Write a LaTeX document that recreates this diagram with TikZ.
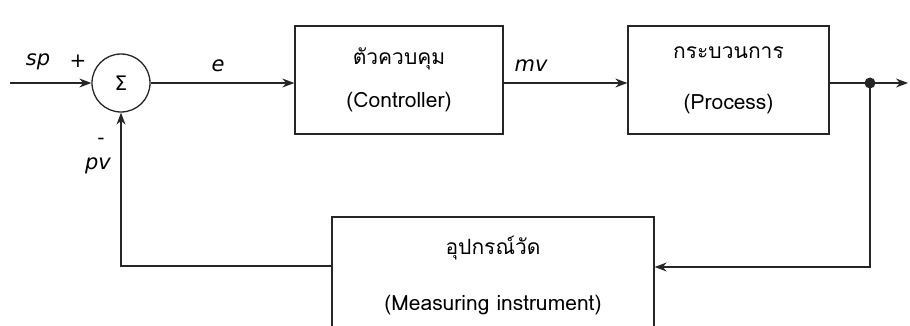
\documentclass[tikz,border=0pt]{standalone}
\usepackage{fontspec}
\setmainfont{DejaVu Sans}
\newfontfamily\thai[Script=Thai]{Loma}
\usetikzlibrary{arrows.meta}
\begin{document}
\begin{tikzpicture}[x=1pt,y=-1pt,
  line width=1.3pt, draw=black!85,
  arr/.style={-{Stealth[length=12pt,width=9pt]}},
  blk/.style={draw, rectangle, inner sep=0pt, align=center, font=\thai\fontsize{21}{24}\selectfont},
  lbl/.style={font=\itshape\fontsize{21}{24}\selectfont, inner sep=1pt},
  sgn/.style={font=\fontsize{20}{22}\selectfont, inner sep=1pt}]
\useasboundingbox (0,0) rectangle (910,326);
\clip (0,0) rectangle (910,326);
\node[draw, circle, minimum size=58pt, inner sep=0pt, font=\fontsize{20}{22}\selectfont] (sum) at (121,83) {Σ};
\node[blk, minimum width=208pt, minimum height=108pt] (ctrl) at (399,80) {ตัวควบคุม\\[19pt](Controller)};
\node[blk, minimum width=201pt, minimum height=108pt] (proc) at (728.5,80) {กระบวนการ\\[27pt](Process)};
\node[blk, minimum width=322pt, minimum height=118pt] (meas) at (493,276) {อุปกรณ์วัด\\[32pt](Measuring instrument)};
\coordinate (in) at (10,83);
\coordinate (out) at (908,83);
\node[circle, fill=black!85, minimum size=11pt, inner sep=0pt] (dot) at (870,83) {};
\coordinate (fbr) at (870,267);
\coordinate (fbl) at (121,266);
\draw[arr] (in) -- (sum.west);
\draw[arr] (sum.east) -- (ctrl.west |- sum.east);
\draw[arr] (ctrl.east |- sum.east) -- (proc.west |- sum.east);
\draw[arr] (proc.east |- sum.east) -- (out);
\draw[arr] (dot.center) -- (fbr) -- (meas.east |- fbr);
\draw[arr] (meas.west |- fbl) -- (fbl) -- (sum.south);
\node[lbl] (sp) at (38,62) {sp};
\node[sgn] (plus) at (78,61) {+};
\node[lbl] (e) at (218,66) {e};
\node[lbl] (mv) at (531,66) {mv};
\node[sgn] (minus) at (101,141) {-};
\node[lbl] (pv) at (98,166) {pv};
\end{tikzpicture}
\end{document}
